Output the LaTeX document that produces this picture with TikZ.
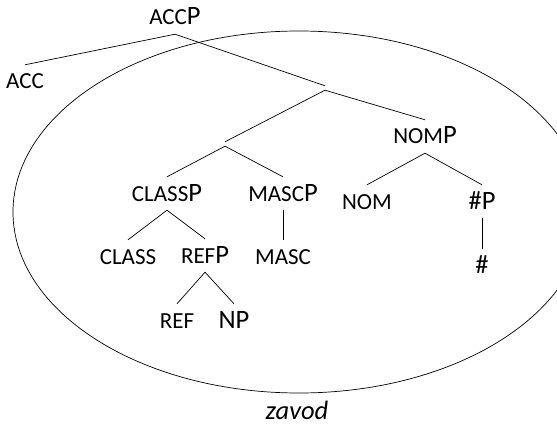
\documentclass[tikz,border=0pt]{standalone}
\usepackage{fontspec}
\setmainfont{Carlito}
\usepackage{tikz}
\usetikzlibrary{positioning}

\newcommand{\smcap}[1]{{\fontsize{23pt}{27pt}\selectfont #1}}

\begin{document}
\begin{tikzpicture}[
  x=1pt, y=-1pt,
  lbl/.style={font=\fontsize{26.5pt}{31pt}\selectfont, anchor=base, inner xsep=1pt, inner ysep=9pt, text height=15pt, text depth=0pt},
  junct/.style={inner sep=2pt, minimum size=0pt},
  branch/.style={line width=0.7pt, black},
  word/.style={font=\fontsize{26.5pt}{31pt}\selectfont\itshape, anchor=base, inner sep=0pt}
]
\useasboundingbox (0,0) rectangle (557,425);
% the big oval round the lower tree
\begin{scope}
  \clip (0,0) rectangle (557,425);
  \draw[branch] (299,212) ellipse [x radius=286pt, y radius=181pt];
\end{scope}
\node[lbl] (accp) at (175,25) {\smcap{ACC}P};
\node[lbl] (acc) at (25,89) {\smcap{ACC}};
\node[junct] (m1) at (325,88) {};
\node[junct] (m2) at (225,144) {};
\node[lbl] (nomp) at (425,144) {\smcap{NOM}P};
\node[lbl] (classp) at (167,201) {\smcap{CLASS}P};
\node[lbl] (mascp) at (283,201) {\smcap{MASC}P};
\node[lbl] (nom) at (367,209) {\smcap{NOM}};
\node[lbl] (hashp) at (482,209) {\#P};
\node[lbl] (class) at (128,264) {\smcap{CLASS}};
\node[lbl] (refp) at (205,263) {\smcap{REF}P};
\node[lbl] (masc) at (283,264) {\smcap{MASC}};
\node[lbl] (hash) at (482,273) {\#};
\node[lbl] (ref) at (177,328) {\smcap{REF}};
\node[lbl] (np) at (234,328) {NP};
\node[word] (zavod) at (297,419) {zavod};
\draw[branch] (accp.south) -- (acc.north);
\draw[branch] (accp.south) -- (m1.north);
\draw[branch] (m1.south) -- (m2.north);
\draw[branch] (m1.south) -- (nomp.north);
\draw[branch] (m2.south) -- (classp.north);
\draw[branch] (m2.south) -- (mascp.north);
\draw[branch] (classp.south) -- (class.north);
\draw[branch] (classp.south) -- (refp.north);
\draw[branch] (mascp.south) -- (masc.north);
\draw[branch] (refp.south) -- (ref.north);
\draw[branch] (refp.south) -- (np.north);
\draw[branch] (nomp.south) -- (nom.north);
\draw[branch] (nomp.south) -- (hashp.north);
\draw[branch] (hashp.south) -- (hash.north);
\end{tikzpicture}
\end{document}
